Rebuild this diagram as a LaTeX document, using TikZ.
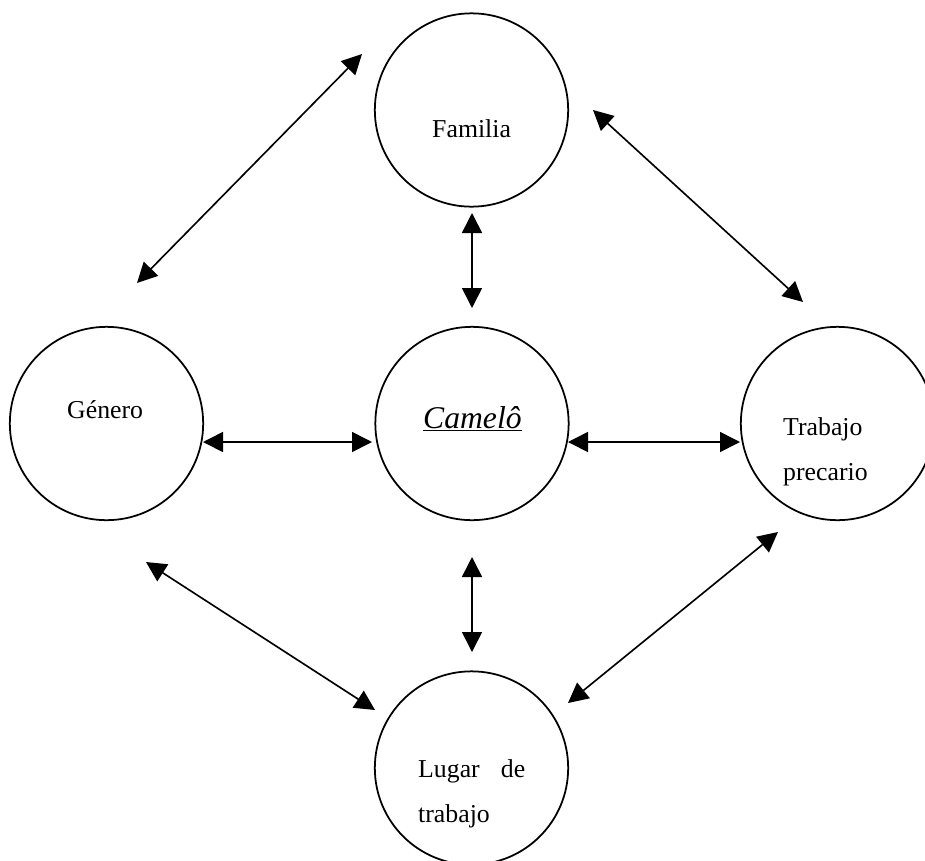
\documentclass[tikz,border=0pt]{standalone}
\usepackage{fontspec}
\setmainfont{Liberation Serif}
\usetikzlibrary{arrows.meta}

\begin{document}
\begin{tikzpicture}[x=0.03cm, y=-0.03cm, >={Triangle[length=0.6cm, width=0.6cm]},
  bubble/.style={draw, circle, line width=1.5pt, minimum size=5.8cm, inner sep=0pt},
  lbl/.style={font=\fontsize{22}{38}\selectfont, inner sep=0pt, align=left, anchor=base west},
  link/.style={<->, line width=1.4pt}]

\useasboundingbox (0,0) rectangle (925,860);

% Circles
\node[bubble] (fam) at (471.5,110) {};
\node[bubble] (gen) at (106.5,423.5) {};
\node[bubble] (cam) at (472,423.5) {};
\node[bubble] (tra) at (837.5,423.5) {};
\node[bubble] (lug) at (471.5,768) {};

% Labels (base = last line)
\node[lbl] (famtxt) at (432,137) {Familia};
\node[lbl] (gentxt) at (67,418) {Género};
\node[lbl, font=\fontsize{27}{30}\selectfont\itshape] (camtxt) at (423,428) {\underline{Camelô}};
\node[lbl] (tratxt) at (783,480) {Trabajo\\precario};
\node[lbl] (lugtxt) at (418,822) {\makebox[3.21cm][s]{Lugar de}\\trabajo};

% Arrow ends
\coordinate (fg1) at (362,54);   \coordinate (fg2) at (137,283);
\coordinate (fc1) at (472,213);  \coordinate (fc2) at (472,308);
\coordinate (ft1) at (593,110);  \coordinate (ft2) at (803,302);
\coordinate (gc1) at (203,442);  \coordinate (gc2) at (372,442);
\coordinate (ct1) at (568,442);  \coordinate (ct2) at (740,442);
\coordinate (cl1) at (472,557);  \coordinate (cl2) at (472,652);
\coordinate (gl1) at (146,562);  \coordinate (gl2) at (375,710);
\coordinate (tl1) at (778,532);  \coordinate (tl2) at (568,703);

% Double arrows
\foreach \a/\b in {fg1/fg2, fc1/fc2, ft1/ft2, gc1/gc2, ct1/ct2, cl1/cl2, gl1/gl2, tl1/tl2}
  \draw[link] (\a) -- (\b);

\end{tikzpicture}
\end{document}
